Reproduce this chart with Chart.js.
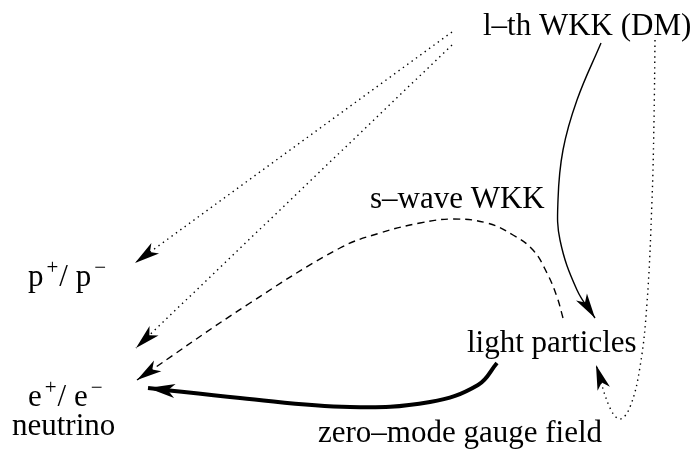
<!DOCTYPE html>
<html>
<head>
<meta charset="utf-8">
<script src="https://cdn.jsdelivr.net/npm/chart.js@4/dist/chart.umd.min.js"></script>
<style>
  html, body { margin: 0; padding: 0; background: #fff; }
  canvas { display: block; }
</style>
</head>
<body>
<canvas id="diagram" width="693" height="451"></canvas>
<script>
// node labels (plain text)
const nodeLabels = ['l–th WKK (DM)', 's–wave WKK', 'light particles', 'zero–mode gauge field', 'neutrino']
const nodeX = [483, 370, 467, 318, 12]
const nodeY = [35, 208, 352, 442, 435]

// labels with superscripts: [text, isSuperscript]
const chargedLabels = [
  [['p', 0], ['+', 1], ['/ p', 0], ['−', 1]],
  [['e', 0], ['+', 1], ['/ e', 0], ['−', 1]],
]
const chargedX = [28, 28]
const chargedY = [286, 406]

// arrows: DM -> p+/p-  and  DM -> e+/e-  (dotted, straight)
const dmToProtonX = [452, 135]
const dmToProtonY = [32, 263]
const dmToElectronX = [452, 136]
const dmToElectronY = [45, 348]

// s-wave WKK: light particles -> e+/e- (dashed)
const swaveX = [563, 557, 547, 533, 513, 487, 453, 420, 380, 340, 250, 137]
const swaveY = [318, 297, 273, 250, 235, 223, 219, 223, 233, 248, 303, 380]

// DM -> light particles (solid thin)
const dmToLightX = [601, 577, 563, 558, 560, 577, 595]
const dmToLightY = [43, 100, 150, 200, 240, 290, 318]

// light particles -> e+/e- (solid thick)
const lightToElectronX = [497, 478, 430, 350, 240, 148]
const lightToElectronY = [363, 385, 402, 407, 398, 388]

// DM -> zero-mode gauge field -> light particles (dotted loop)
const gaugeLoopX = [655, 654, 652, 647, 640, 630, 620, 610, 596]
const gaugeLoopY = [40, 120, 200, 303, 367, 407, 419, 408, 365]

const FONT = '"Liberation Serif", "Times New Roman", serif'

function toPoints(xs, ys) {
  return xs.map((x, i) => ({x, y: ys[i]}))
}

function curve(xs, ys, style) {
  return Object.assign({
    data: toPoints(xs, ys),
    showLine: true,
    pointRadius: 0,
    pointHoverRadius: 0,
    borderColor: '#000',
    backgroundColor: '#000',
    borderWidth: 1.4,
    tension: 0.4,
    fill: false,
    clip: false,
  }, style)
}

const DOTTED = [1.4, 4]
const DASHED = [7, 5]

const arrowPlugin = {
  id: 'arrowHeads',
  afterDatasetsDraw(chart) {
    const ctx = chart.ctx
    chart.data.datasets.forEach((ds, i) => {
      const pts = chart.getDatasetMeta(i).data
      if (pts.length < 2) return
      const tip = pts[pts.length - 1]
      let from = pts[pts.length - 2]
      if (tip.cp1x !== undefined && Math.hypot(tip.cp1x - tip.x, tip.cp1y - tip.y) > 1) {
        from = {x: tip.cp1x, y: tip.cp1y}
      }
      const ang = Math.atan2(tip.y - from.y, tip.x - from.x)
      const len = ds.arrowLen || 25
      const half = ds.arrowHalf || 6.5
      const notch = len * 0.74
      ctx.save()
      ctx.translate(tip.x, tip.y)
      ctx.rotate(ang)
      ctx.beginPath()
      ctx.moveTo(0, 0)
      ctx.lineTo(-len, -half)
      ctx.lineTo(-notch, 0)
      ctx.lineTo(-len, half)
      ctx.closePath()
      ctx.fillStyle = '#000'
      ctx.fill()
      ctx.restore()
    })
  },
}

const labelPlugin = {
  id: 'nodeLabels',
  afterDraw(chart) {
    const {ctx, scales: {x, y}} = chart
    ctx.save()
    ctx.fillStyle = '#000'
    ctx.textBaseline = 'alphabetic'
    ctx.textAlign = 'left'
    ctx.font = `31px ${FONT}`
    nodeLabels.forEach((t, i) => {
      ctx.fillText(t, x.getPixelForValue(nodeX[i]), y.getPixelForValue(nodeY[i]))
    })
    chargedLabels.forEach((parts, i) => {
      let px = x.getPixelForValue(chargedX[i])
      const py = y.getPixelForValue(chargedY[i])
      parts.forEach(([t, sup]) => {
        if (sup) {
          ctx.font = `21px ${FONT}`
          px += 3
          ctx.fillText(t, px, py - 12)
          px += ctx.measureText(t).width + 1
        } else {
          ctx.font = `31px ${FONT}`
          ctx.fillText(t, px, py)
          px += ctx.measureText(t).width
        }
      })
    })
    ctx.restore()
  },
}

new Chart(document.getElementById('diagram'), {
  type: 'scatter',
  data: {
    datasets: [
      curve(dmToProtonX, dmToProtonY, {tension: 0, borderDash: DOTTED}),
      curve(dmToElectronX, dmToElectronY, {tension: 0, borderDash: DOTTED}),
      curve(swaveX, swaveY, {borderDash: DASHED}),
      curve(dmToLightX, dmToLightY, {}),
      curve(lightToElectronX, lightToElectronY, {borderWidth: 4, arrowLen: 27, arrowHalf: 7}),
      curve(gaugeLoopX, gaugeLoopY, {borderDash: DOTTED}),
    ],
  },
  options: {
    responsive: false,
    animation: false,
    events: [],
    layout: {padding: 0},
    plugins: {legend: {display: false}, tooltip: {enabled: false}},
    scales: {
      x: {type: 'linear', min: 0, max: 693, display: false},
      y: {type: 'linear', min: 0, max: 451, reverse: true, display: false},
    },
  },
  plugins: [arrowPlugin, labelPlugin],
})
</script>
</body>
</html>
